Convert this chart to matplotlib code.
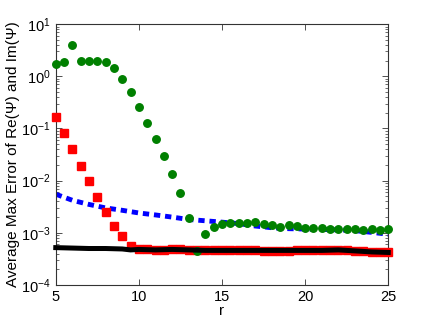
import numpy as np
import matplotlib
matplotlib.use("Agg")
import matplotlib.pyplot as plt
from matplotlib.ticker import LogLocator, NullFormatter

plt.rcParams['font.family'] = ['Liberation Sans', 'DejaVu Sans']
plt.rcParams['mathtext.fontset'] = 'custom'
plt.rcParams['mathtext.rm'] = 'Liberation Sans'

# Green circles
green_x = [5, 5.5, 6, 6.5, 7, 7.5, 8, 8.5, 9, 9.5, 10, 10.5, 11, 11.5,
           12, 12.5, 13, 13.5, 14, 14.5, 15, 15.5, 16, 16.5, 17, 17.5, 18,
           18.5, 19, 19.5, 20, 20.5, 21, 21.5, 22, 22.5, 23, 23.5, 24, 24.5, 25]
green_y = [1.73, 1.87, 3.9, 1.98, 1.98, 1.95, 1.87, 1.42, 0.87, 0.50, 0.254,
           0.127, 0.0626, 0.030, 0.0134, 0.0057, 0.0019, 0.00044, 0.00093,
           0.00131, 0.00149, 0.00152, 0.00153, 0.00153, 0.00158, 0.00146,
           0.00140, 0.00131, 0.00140, 0.00133, 0.00124, 0.00125, 0.00122,
           0.00117, 0.00117, 0.00117, 0.00117, 0.00115, 0.00119, 0.00115, 0.00117]

# Red squares
red_x = [5, 5.5, 6, 6.5, 7, 7.5, 8, 8.5, 9, 9.5, 10, 10.5, 11, 11.5, 12,
         12.5, 13, 13.5, 14, 14.5, 15, 15.5, 16, 16.5, 17, 17.5, 18, 18.5,
         19, 19.5, 20, 20.5, 21, 21.5, 22, 22.5, 23, 23.5, 24, 24.5, 25]
red_y = [0.165, 0.083, 0.040, 0.0193, 0.0100, 0.0048, 0.00247, 0.00137,
         0.00086, 0.00056, 0.00050, 0.00049, 0.00047, 0.00047, 0.00048,
         0.00048, 0.00047, 0.00047, 0.00046, 0.00046, 0.00046, 0.00046,
         0.00046, 0.00046, 0.00046, 0.00045, 0.00045, 0.00045, 0.00045,
         0.00046, 0.00046, 0.00046, 0.00046, 0.00046, 0.00047, 0.00046,
         0.00045, 0.00044, 0.00043, 0.00043, 0.00042]

# Blue dashed line
blue_x = [5, 6, 7, 8, 9, 10, 11, 12, 13, 14, 15, 16, 17, 18, 19, 20, 21,
          22, 23, 24, 25]
blue_y = [0.0055, 0.0042, 0.0035, 0.0030, 0.0027, 0.0024, 0.0022, 0.0020,
          0.0018, 0.0017, 0.0016, 0.0015, 0.00135, 0.00125, 0.0012, 0.00118,
          0.00116, 0.00114, 0.0011, 0.00102, 0.00094]

# Black thick line
black_x = [5, 6, 7, 8, 9, 9.5, 10, 11, 12, 13, 14, 15, 16, 17, 18, 19, 20,
           21, 22, 23, 24, 25]
black_y = [0.00052, 0.00051, 0.00050, 0.00050, 0.00049, 0.00047, 0.00048,
           0.00047, 0.00048, 0.00047, 0.00046, 0.00046, 0.00046, 0.00046,
           0.00046, 0.00046, 0.00046, 0.00046, 0.00047, 0.00045, 0.00043,
           0.00042]

x_ticks = [5, 10, 15, 20, 25]

fig = plt.figure(figsize=(4.29, 3.22), dpi=100)
ax = fig.add_axes([0.13, 0.115, 0.775, 0.81])

ax.plot(blue_x, blue_y, color=(0, 0, 1), lw=3.5, ls=(0, (1.3, 1.0)),
        dash_capstyle='butt', zorder=2)
ax.plot(red_x, red_y, ls='none', marker='s', ms=5.2, color=(1, 0, 0),
        mec=(1, 0, 0), clip_on=False, zorder=3)
ax.plot(green_x, green_y, ls='none', marker='o', ms=5.4, color=(0, 0.5, 0),
        mec=(0, 0.5, 0), clip_on=False, zorder=4)
ax.plot(black_x, black_y, color='k', lw=3.6, zorder=5, clip_on=False)

ax.set_yscale('log')
ax.set_xlim(5, 25)
ax.set_ylim(1e-4, 1e1)
ax.set_xticks(x_ticks)
ax.yaxis.set_major_locator(LogLocator(base=10, numticks=10))
ax.yaxis.set_minor_locator(LogLocator(base=10, subs=np.arange(2, 10), numticks=20))
ax.yaxis.set_minor_formatter(NullFormatter())
ax.tick_params(which='both', direction='in', top=True, right=True,
               labelsize=10.5, color='#333333')
ax.tick_params(which='major', length=4, width=0.6)
ax.tick_params(which='minor', length=2, width=0.5)
for s in ax.spines.values():
    s.set_linewidth(0.8)
    s.set_color('#333333')

ax.set_xlabel('r', fontsize=11, labelpad=0)
ax.set_ylabel('Average Max Error of Re(Ψ) and Im(Ψ)', fontsize=11, labelpad=1)

fig.savefig('out.png', dpi=100)
